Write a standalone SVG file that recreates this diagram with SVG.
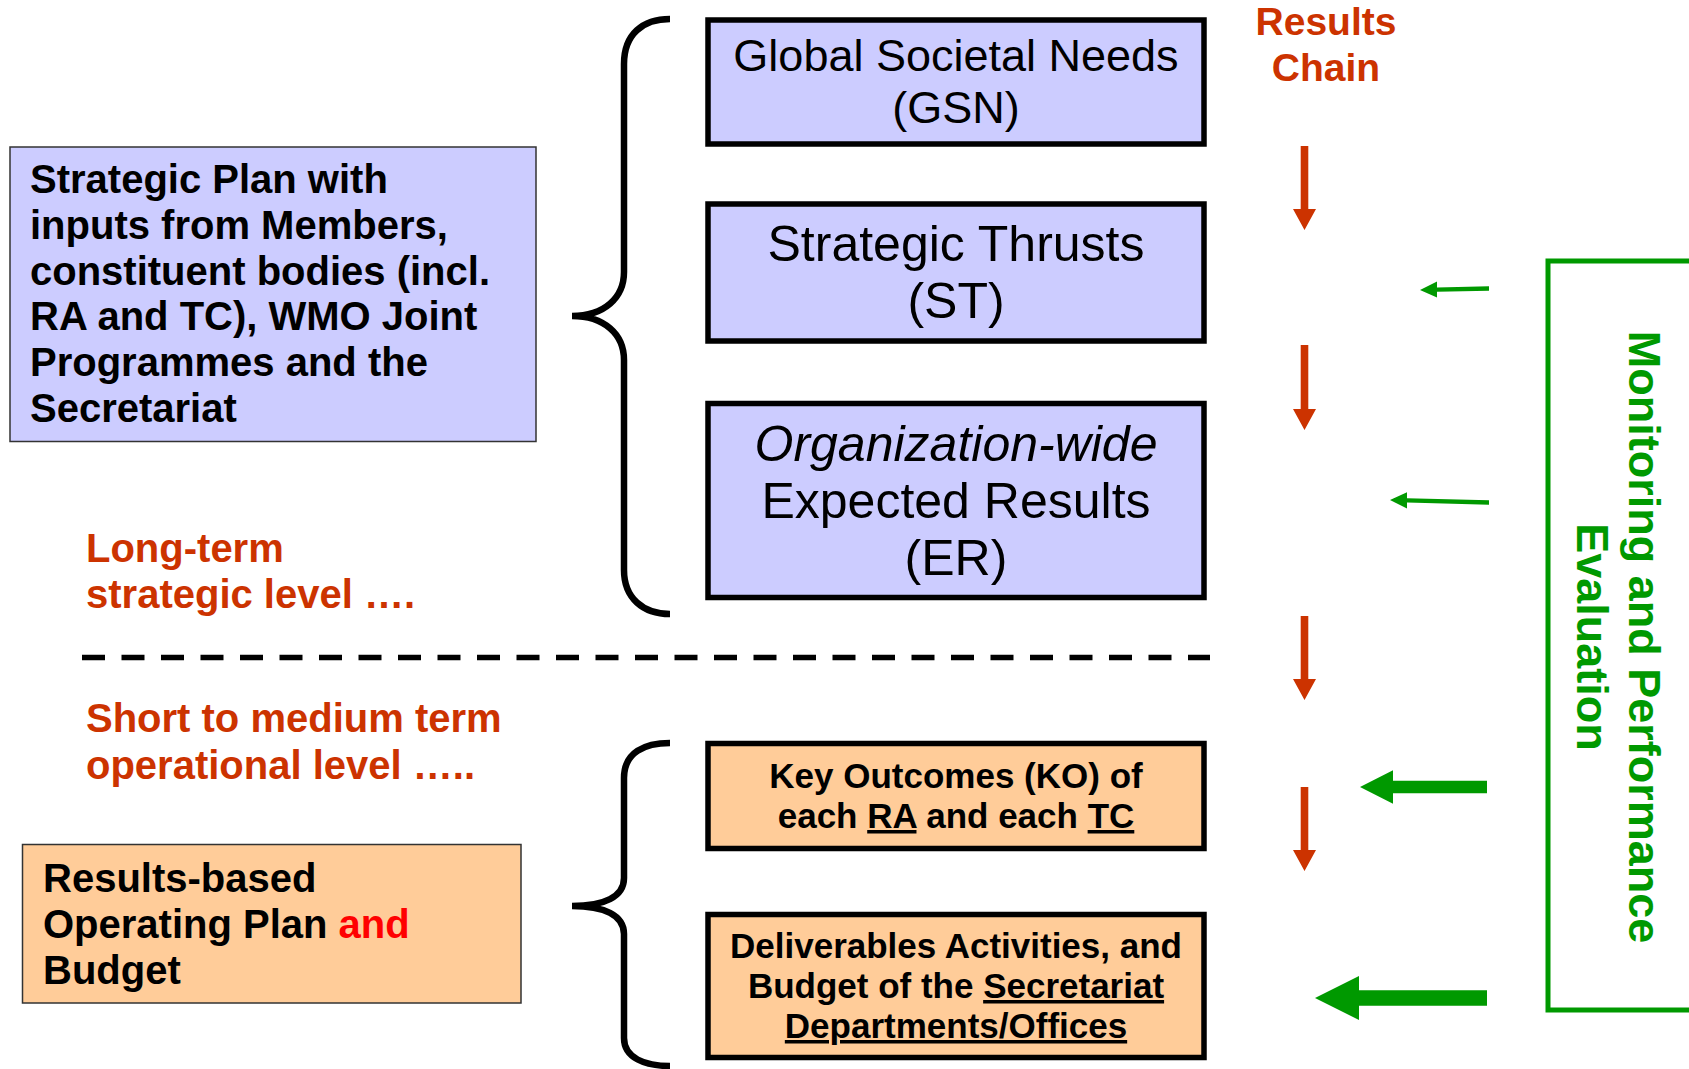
<svg xmlns="http://www.w3.org/2000/svg" width="1689" height="1069" viewBox="0 0 1689 1069">
<style>
text{font-family:"Liberation Sans",Arial,sans-serif}
.b{font-weight:bold}
.box-blue{fill:#ccccff;stroke:#000;stroke-width:5.5}
.box-org{fill:#ffcc99;stroke:#000;stroke-width:5.5}
.side-blue{fill:#ccccff;stroke:#333;stroke-width:1.5}
.side-org{fill:#ffcc99;stroke:#333;stroke-width:1.5}
.brace{fill:none;stroke:#000;stroke-width:6.5}
.rc{fill:#cc3300}
.gr{fill:#009900}
.u{text-decoration:underline}
.c{text-anchor:middle}
</style>
<rect width="1689" height="1069" fill="#fff"/>

<g id="braces">
<path class="brace" d="M670 19 C643 19 624 34 624 64 L624 272 C624 298 604 316 572 316 C604 316 624 334 624 360 L624 570 C624 598 643 614 670 614"/>
<path class="brace" d="M670 743 C645 743 624 752 624 778 L624 878 C624 897 604 906 572 906 C604 906 624 915 624 934 L624 1038 C624 1058 645 1066 670 1066"/>
</g>

<g id="divider">
<path d="M82 657.5 H1210" stroke="#000" stroke-width="5.5" stroke-dasharray="23 16.5" fill="none"/>
</g>

<g id="node-strategic-plan">
<rect class="side-blue" x="10" y="147" width="526" height="294.5"/>
<text class="b" font-size="40"><tspan x="30" y="193">Strategic Plan with</tspan><tspan x="30" y="239">inputs from Members,</tspan><tspan x="30" y="285">constituent bodies (incl.</tspan><tspan x="30" y="330">RA and TC), WMO Joint</tspan><tspan x="30" y="376">Programmes and the</tspan><tspan x="30" y="422">Secretariat</tspan></text>
</g>

<g id="node-operating-plan">
<rect class="side-org" x="22.5" y="844.5" width="498.5" height="158.5"/>
<text class="b" font-size="40"><tspan x="43" y="892">Results-based</tspan><tspan x="43" y="938">Operating Plan <tspan fill="#ff0000">and</tspan></tspan><tspan x="43" y="984">Budget</tspan></text>
</g>

<g id="label-long-term">
<text class="b rc" font-size="40"><tspan x="86" y="562">Long-term</tspan><tspan x="86" y="608">strategic level ….</tspan></text>
</g>

<g id="label-short-term">
<text class="b rc" font-size="40"><tspan x="86" y="732">Short to medium term</tspan><tspan x="86" y="779">operational level …..</tspan></text>
</g>

<g id="node-gsn">
<rect class="box-blue" x="708" y="20" width="496" height="124"/>
<text class="c" font-size="45"><tspan x="956" y="71">Global Societal Needs</tspan><tspan x="956" y="123">(GSN)</tspan></text>
</g>

<g id="node-st">
<rect class="box-blue" x="708" y="204" width="496" height="137"/>
<text class="c" font-size="50"><tspan x="956" y="261">Strategic Thrusts</tspan><tspan x="956" y="318">(ST)</tspan></text>
</g>

<g id="node-er">
<rect class="box-blue" x="708" y="403.5" width="496" height="194"/>
<text class="c" font-size="50"><tspan x="956" y="461" font-style="italic">Organization-wide</tspan><tspan x="956" y="518">Expected Results</tspan><tspan x="956" y="575">(ER)</tspan></text>
</g>

<g id="node-ko">
<rect class="box-org" x="708" y="743.5" width="496" height="105"/>
<text class="c b" font-size="35"><tspan x="956" y="788">Key Outcomes (KO) of</tspan><tspan x="956" y="828">each <tspan class="u">RA</tspan> and each <tspan class="u">TC</tspan></tspan></text>
</g>

<g id="node-deliverables">
<rect class="box-org" x="708" y="914.5" width="496" height="143"/>
<text class="c b" font-size="35"><tspan x="956" y="958">Deliverables Activities, and</tspan><tspan x="956" y="998">Budget of the <tspan class="u">Secretariat</tspan></tspan><tspan x="956" y="1038" class="u">Departments/Offices</tspan></text>
</g>

<g id="label-results-chain">
<text class="c b rc" font-size="39"><tspan x="1326" y="35">Results</tspan><tspan x="1326" y="81">Chain</tspan></text>
</g>

<g id="node-monitoring">
<rect x="1548" y="261" width="200" height="749" fill="none" stroke="#009900" stroke-width="5"/>
<text class="c b gr" font-size="45" transform="translate(1629 637) rotate(90)">Monitoring and Performance</text>
<text class="c b gr" font-size="45" transform="translate(1577 637) rotate(90)">Evaluation</text>
</g>

<g id="connectors">
<path class="rc" d="M1300.7 146 H1308.3 V209 H1316 L1304.5 230 L1293 209 H1300.7 Z"/>
<path class="rc" d="M1300.7 345 H1308.3 V409 H1316 L1304.5 430 L1293 409 H1300.7 Z"/>
<path class="rc" d="M1300.7 616 H1308.3 V679 H1316 L1304.5 700 L1293 679 H1300.7 Z"/>
<path class="rc" d="M1300.7 787 H1308.3 V850 H1316 L1304.5 871 L1293 850 H1300.7 Z"/>
<path class="gr" d="M1489 286.3 L1437 287.4 L1437 281.6 L1420 290 L1437 297.6 L1437 291.8 L1489 290.7 Z"/>
<path class="gr" d="M1489 500.3 L1407 498.2 L1407 492.2 L1390 500 L1407 508.6 L1407 502.6 L1489 504.7 Z"/>
<path class="gr" d="M1487 780.8 H1393 V770.3 L1360 787 L1393 803.7 V793.2 H1487 Z"/>
<path class="gr" d="M1487 990.3 H1359 V976 L1315 998 L1359 1020 V1005.7 H1487 Z"/>
</g>
</svg>
